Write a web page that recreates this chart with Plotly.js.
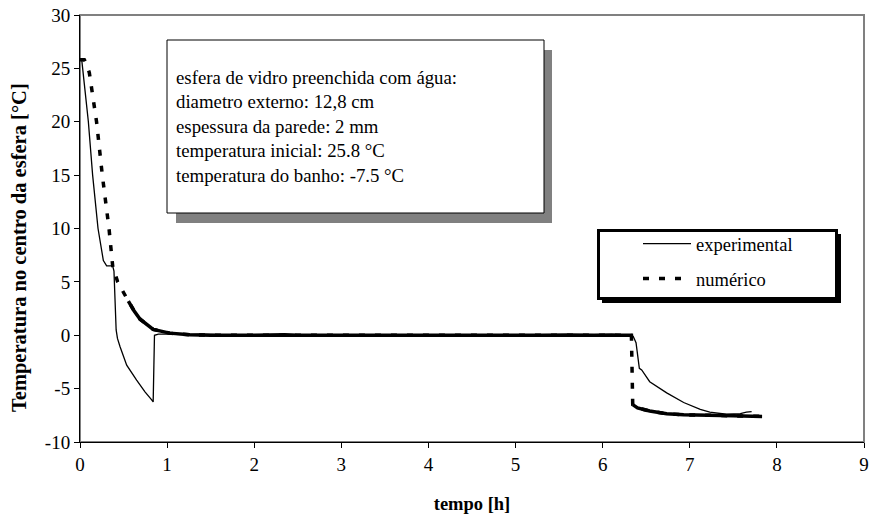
<!DOCTYPE html>
<html>
<head>
<meta charset="utf-8">
<script src="https://cdn.plot.ly/plotly-3.0.1.min.js"></script>
<style>html,body{margin:0;padding:0;background:#fff;}#chart{width:870px;height:519px;}</style>
</head>
<body>
<div id="chart"></div>
<script>
// ---- data ----
const expT = [0, 0.02, 0.05, 0.096, 0.145, 0.207, 0.268, 0.306, 0.375, 0.39, 0.415, 0.43, 0.459, 0.536, 0.65, 0.746, 0.823, 0.84, 0.855, 0.9, 1.0, 1.2, 1.4, 1.6, 1.8, 2.0, 2.2, 2.35, 2.5, 2.8, 3.0, 3.5, 4.0, 4.5, 5.0, 5.3, 5.6, 5.9, 6.1, 6.3, 6.35, 6.383, 6.421, 6.448, 6.54, 6.735, 6.93, 7.12, 7.23, 7.42, 7.58, 7.65, 7.71];
const expV = [25.8, 25.8, 23.5, 20, 15, 10, 7, 6.5, 6.5, 6.0, 0.5, -0.3, -1.05, -2.8, -4.2, -5.3, -6.05, -6.25, 0.0, 0.1, 0.1, 0.05, 0.1, 0.05, 0.0, 0.05, 0.1, 0.15, 0.05, 0.0, 0.05, 0.0, 0.0, 0.0, 0.0, 0.05, 0.1, 0.05, 0.1, 0.0, -0.1, -0.7, -3.1, -3.25, -4.35, -5.4, -6.3, -6.95, -7.2, -7.4, -7.35, -7.2, -7.15];

const numT = [0, 0.05, 0.07, 0.107, 0.19, 0.256, 0.333, 0.375, 0.432, 0.497, 0.555, 0.62, 0.69, 0.84, 1.03, 1.26, 1.5, 2, 3, 4, 5, 6, 6.33, 6.345, 6.4, 6.54, 6.735, 6.93, 7.12, 7.5, 7.83];
const numV = [25.8, 25.8, 25.5, 24.6, 20, 15, 10, 6.5, 5, 4.0, 3.2, 2.3, 1.5, 0.55, 0.2, 0.05, 0, 0, 0, 0, 0, 0, 0, -6.5, -6.8, -7.1, -7.35, -7.45, -7.5, -7.55, -7.6];

const seriesNames = ['experimental', 'numérico'];
const xTickVals = [0, 1, 2, 3, 4, 5, 6, 7, 8, 9];
const yTickVals = [-10, -5, 0, 5, 10, 15, 20, 25, 30];
const infoLines = [
  'esfera de vidro preenchida com água:',
  'diametro externo: 12,8 cm',
  'espessura da parede: 2 mm',
  'temperatura inicial: 25.8 °C',
  'temperatura do banho: -7.5 °C'
];
const xTitle = 'tempo [h]';
const yTitle = 'Temperatura no centro da esfera [°C]';

// ---- build ----
const FONT = 'Liberation Serif, Times New Roman, serif';
// solid overlay of the numeric curve where its points are dense (Excel draws short dashed segments as solid)
const solidX = [], solidY = [];
for (let i = 0; i < numT.length; i++) {
  if (numT[i] < 0.5) continue;
  if (solidX.length && Math.abs(numV[i] - numV[i - 1]) > 3) { solidX.push(null); solidY.push(null); }
  solidX.push(numT[i]); solidY.push(numV[i]);
}

const traces = [
  {x: expT, y: expV, mode: 'lines', name: seriesNames[0], legendgroup: 'e',
   line: {color: '#000', width: 1.3}},
  {x: numT, y: numV, mode: 'lines', name: seriesNames[1], legendgroup: 'n',
   line: {color: '#000', width: 3.5, dash: '6px,10px'}},
  {x: solidX, y: solidY, mode: 'lines', showlegend: false, hoverinfo: 'skip', legendgroup: 'n',
   line: {color: '#000', width: 3.5}}
];

const L = 80, R = 864, T = 15, B = 442;
const px = v => (v - L) / (R - L);
const py = v => (B - v) / (B - T);

const shapes = [
  {type: 'rect', xref: 'paper', yref: 'paper', x0: 0, x1: 1, y0: 0, y1: 1, layer: 'below',
   line: {color: '#808080', width: 2}},
  {type: 'rect', xref: 'paper', yref: 'paper', x0: px(176), x1: px(552), y0: py(223), y1: py(50),
   fillcolor: '#808080', line: {width: 0}, layer: 'above'},
  {type: 'rect', xref: 'paper', yref: 'paper', x0: px(167), x1: px(544), y0: py(213), y1: py(40),
   fillcolor: '#fff', line: {color: '#000', width: 1}, layer: 'above'},
  {type: 'rect', xref: 'paper', yref: 'paper', x0: px(602), x1: px(841), y0: py(303), y1: py(234),
   fillcolor: '#000', line: {width: 0}, layer: 'above'},
  {type: 'rect', xref: 'paper', yref: 'paper', x0: px(598.5), x1: px(836.5), y0: py(298.5), y1: py(230.5),
   fillcolor: '#fff', line: {color: '#000', width: 3}, layer: 'above'}
];

const layout = {
  width: 870, height: 519,
  margin: {l: L, r: 870 - R, t: T, b: 519 - B, pad: 0},
  paper_bgcolor: '#fff', plot_bgcolor: '#fff',
  font: {family: FONT, size: 19, color: '#000'},
  showlegend: true,
  legend: {x: px(638), y: py(225), xanchor: 'left', yanchor: 'top',
           bgcolor: 'rgba(0,0,0,0)', borderwidth: 0, itemwidth: 48,
           font: {family: FONT, size: 18.5, color: '#000'}, tracegroupgap: 8, traceorder: 'grouped'},
  xaxis: {range: [0, 9], tickvals: xTickVals, ticktext: xTickVals.map(String),
          showgrid: false, zeroline: false, showline: true, linecolor: '#000', linewidth: 1,
          ticks: 'outside', ticklen: 5, tickcolor: '#000', tickwidth: 1,
          tickfont: {family: FONT, size: 19, color: '#000'},
          title: {text: xTitle, font: {family: FONT, size: 18.5, color: '#000', weight: 'bold'}, standoff: 23}},
  yaxis: {range: [-10, 30], tickvals: yTickVals, ticktext: yTickVals.map(String),
          showgrid: false, zeroline: false, showline: true, linecolor: '#000', linewidth: 1,
          ticks: 'outside', ticklen: 5, tickcolor: '#000', tickwidth: 1,
          tickfont: {family: FONT, size: 19, color: '#000'}},
  shapes: shapes,
  annotations: [
    {xref: 'paper', yref: 'paper', x: px(174), y: py(127), xanchor: 'left', yanchor: 'middle',
     align: 'left', showarrow: false, text: infoLines.join('<br>'),
     font: {family: FONT, size: 18.8, color: '#000'}},
    {xref: 'paper', yref: 'paper', x: px(20), y: py(248), xanchor: 'center', yanchor: 'middle',
     textangle: -90, showarrow: false, text: yTitle,
     font: {family: FONT, size: 20.5, color: '#000', weight: 'bold'}}
  ]
};

Plotly.newPlot('chart', traces, layout, {staticPlot: true, displayModeBar: false});
</script>
</body>
</html>
